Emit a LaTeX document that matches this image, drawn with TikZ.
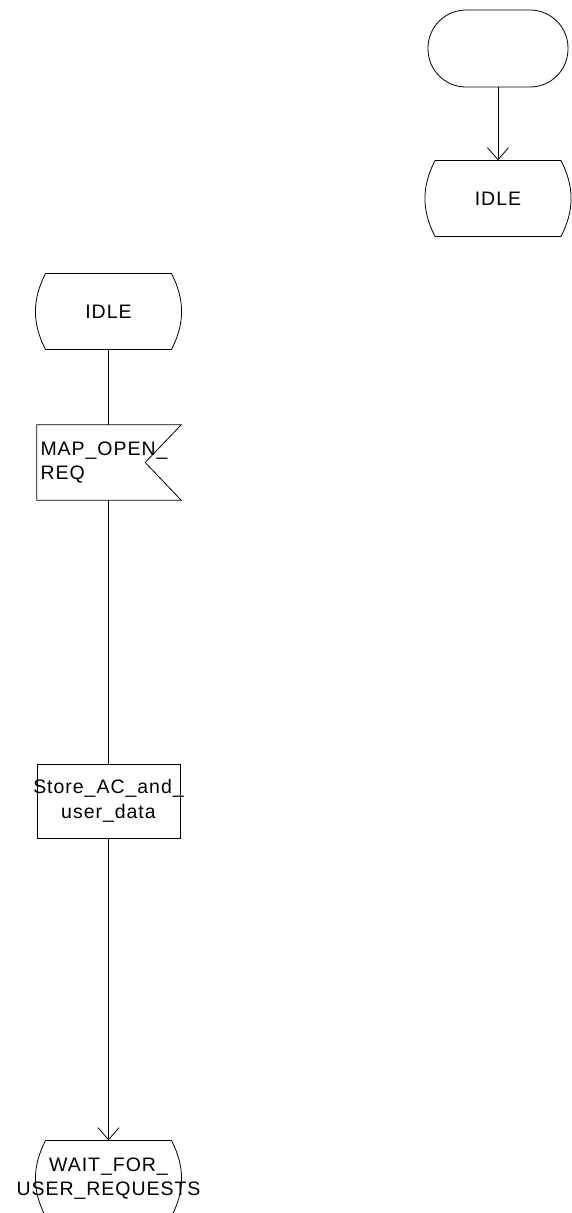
\documentclass[tikz,border=0pt]{standalone}
\usepackage{fontspec}
\usepackage{tikz}
\usetikzlibrary{arrows.meta, calc}
\newfontfamily\sdlfont{Liberation Sans}[LetterSpace=5]

\begin{document}
\begin{tikzpicture}[
    x=1pt, y=1pt,
    sdl/.style={
        rectangle, inner sep=0pt,
        font=\sdlfont\fontsize{19.5}{24.5}\selectfont,
        align=center,
    },
    startbox/.style={sdl, draw, line width=0.8pt, rounded corners=38pt,
        minimum width=140pt, minimum height=77pt},
    statebox/.style={sdl, minimum width=126pt, minimum height=76pt},
    inbox/.style={sdl, minimum width=144pt, minimum height=75pt,
        text width=137pt, align=left},
    taskbox/.style={sdl, minimum width=143pt, minimum height=74pt},
    outline/.style={line width=0.8pt},
    flow/.style={line width=0.8pt},
    arr/.style={flow, -{Straight Barb[length=12pt, width=21pt, line width=0.8pt]}},
]
\useasboundingbox (0,0) rectangle (571,-1213);

% Start and first state
\node[startbox] (start) at (498,-48.5) {};
\node[statebox] (idle1) at (498,-198.5) {IDLE};

% Process on the left
\node[statebox] (idle2) at (108.5,-311.5) {IDLE};
\node[inbox]    (open)  at (109,-462.5) {MAP\_OPEN\_\\REQ};
\node[taskbox]  (store) at (108.5,-801) {Store\_AC\_and\_\\user\_data};
\node[statebox] (wait)  at (108.5,-1178.5) {WAIT\_FOR\_\\USER\_REQUESTS};

% State outlines (fixed size, text may run over)
\foreach \n in {idle1, idle2, wait}
    \draw[outline] ($(\n.center)+(-63,38)$) -- ($(\n.center)+(63,38)$)
        to[bend left=27] ($(\n.center)+(63,-38)$) -- ($(\n.center)+(-63,-38)$)
        to[bend left=27] ($(\n.center)+(-63,38)$);

% Input signal outline
\draw[outline] (open.north west) -- (open.north east)
    -- ($(open.east)+(-36,0)$) -- (open.south east)
    -- (open.south west) -- cycle;

% Task outline
\draw[outline] ($(store.center)+(-71.5,37)$) rectangle ($(store.center)+(71.5,-37)$);

% Connectors
\draw[arr]  (start.south) -- (idle1.north);
\draw[flow] (idle2.south) -- (open.north -| idle2.south);
\draw[flow] (open.south -| idle2.south) -- (store.north);
\draw[arr]  (store.south) -- (wait.north);

\end{tikzpicture}
\end{document}
